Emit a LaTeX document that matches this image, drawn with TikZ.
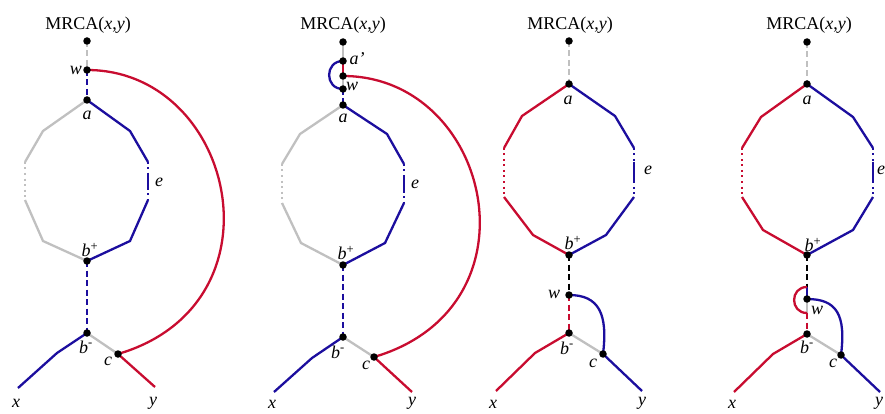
\documentclass[tikz,border=0pt]{standalone}
\usepackage{fontspec}
\setmainfont{Liberation Serif}
\usetikzlibrary{calc}
\definecolor{cred}{RGB}{200,12,48}
\definecolor{cblue}{RGB}{28,14,158}
\definecolor{cgray}{RGB}{192,192,192}
\begin{document}
\begin{tikzpicture}[x=1pt,y=-1pt,
  ln/.style={line width=2.3pt,line join=round},
  dsh/.style={ln,dash pattern=on 6pt off 3.5pt},
  dts/.style={ln,dash pattern=on 2pt off 3.5pt},
  dot/.style={circle,fill=black,inner sep=0pt,minimum size=7.5pt},
  lbl/.style={inner sep=0pt,font=\fontsize{18}{21}\selectfont\itshape},
  ttl/.style={inner sep=0pt,font=\fontsize{18}{21}\selectfont}]
\useasboundingbox (0,0) rectangle (885,414);

% ---------------- Panel 1 ----------------
\coordinate (t1) at (87,41);
\coordinate (w1) at (87,70);
\coordinate (a1) at (87,100);
\coordinate (l1a) at (43,131);
\coordinate (l1b) at (25,162);
\coordinate (l1c) at (25,200);
\coordinate (l1d) at (43,241);
\coordinate (bp1) at (87,261);
\coordinate (r1a) at (130,131);
\coordinate (r1b) at (148,162);
\coordinate (r1c) at (148,200);
\coordinate (r1d) at (130,241);
\coordinate (e1a) at ($(r1b)!0.28!(r1c)$);
\coordinate (e1b) at ($(r1b)!0.68!(r1c)$);
\coordinate (bm1) at (87,333);
\coordinate (xl1) at (57,353);
\coordinate (xe1) at (18,388);
\coordinate (c1) at (118,354);
\coordinate (ye1) at (155,387);

\draw[dsh,cgray] (t1) -- (w1);
\draw[dsh,cblue] (w1) -- (a1);
\draw[ln,cgray] (a1) -- (l1a) -- (l1b);
\draw[dts,cgray] (l1b) -- (l1c);
\draw[ln,cgray] (l1c) -- (l1d) -- (bp1);
\draw[ln,cblue] (a1) -- (r1a) -- (r1b);
\draw[dts,cblue] (r1b) -- (e1a);
\draw[ln,cblue] (e1a) -- (e1b);
\draw[dts,cblue] (e1b) -- (r1c);
\draw[ln,cblue] (r1c) -- (r1d) -- (bp1);
\draw[dsh,cblue] (bp1) -- (bm1);
\draw[ln,cblue] (bm1) -- (xl1) -- (xe1);
\draw[ln,cgray] (bm1) -- (c1);
\draw[ln,cred] (c1) -- (ye1);
\draw[ln,cred] (w1) .. controls +(148,0) and +(170,-50) .. (c1);

\foreach \p in {t1,w1,a1,bp1,bm1,c1} \node[dot] at (\p) {};

\node[ttl] (m1) at (88,25) {MRCA(\textit{x},\textit{y})};
\node[lbl] (lw1) at (76,70) {w};
\node[lbl] (la1) at (87,115) {a};
\node[lbl] (le1) at (159,182) {e};
\node[lbl] (lbp1) at (90,250) {b\textsuperscript{\upshape +}};
\node[lbl] (lbm1) at (86,347) {b\textsuperscript{\upshape -}};
\node[lbl] (lc1) at (108,361) {c};
\node[lbl] (lx1) at (16,403) {x};
\node[lbl] (ly1) at (153,403) {y};

% ---------------- Panel 2 ----------------
\coordinate (t2) at (343,42);
\coordinate (ap2) at (343,61);
\coordinate (w2) at (343,76);
\coordinate (wb2) at (343,89);
\coordinate (a2) at (343,105);
\coordinate (l2a) at (300,134);
\coordinate (l2b) at (282,164);
\coordinate (l2c) at (282,203);
\coordinate (l2d) at (301,243);
\coordinate (bp2) at (343,265);
\coordinate (r2a) at (387,134);
\coordinate (r2b) at (404,164);
\coordinate (r2c) at (404,203);
\coordinate (r2d) at (385,243);
\coordinate (e2a) at ($(r2b)!0.28!(r2c)$);
\coordinate (e2b) at ($(r2b)!0.68!(r2c)$);
\coordinate (bm2) at (343,337);
\coordinate (xl2) at (312,358);
\coordinate (xe2) at (274,392);
\coordinate (c2) at (374,357);
\coordinate (ye2) at (412,392);

\draw[ln,cgray] (t2) -- (ap2);
\draw[ln,cred] (ap2) -- (w2);
\draw[ln,cgray] (w2) -- (wb2);
\draw[dsh,cblue] (wb2) -- (a2);
\draw[ln,cblue] (ap2) to[out=180,in=180,looseness=1.7] (wb2);
\draw[ln,cgray] (a2) -- (l2a) -- (l2b);
\draw[dts,cgray] (l2b) -- (l2c);
\draw[ln,cgray] (l2c) -- (l2d) -- (bp2);
\draw[ln,cblue] (a2) -- (r2a) -- (r2b);
\draw[dts,cblue] (r2b) -- (e2a);
\draw[ln,cblue] (e2a) -- (e2b);
\draw[dts,cblue] (e2b) -- (r2c);
\draw[ln,cblue] (r2c) -- (r2d) -- (bp2);
\draw[dsh,cblue] (bp2) -- (bm2);
\draw[ln,cblue] (bm2) -- (xl2) -- (xe2);
\draw[ln,cgray] (bm2) -- (c2);
\draw[ln,cred] (c2) -- (ye2);
\draw[ln,cred] (w2) .. controls +(148,0) and +(170,-50) .. (c2);

\foreach \p in {t2,ap2,w2,wb2,a2,bp2,bm2,c2} \node[dot] at (\p) {};

\node[ttl] (m2) at (343,25) {MRCA(\textit{x},\textit{y})};
\node[lbl] (lap2) at (357,59) {a'};
\node[lbl] (lw2) at (352,86) {w};
\node[lbl] (la2) at (343,118) {a};
\node[lbl] (le2) at (415,184) {e};
\node[lbl] (lbp2) at (346,253) {b\textsuperscript{\upshape +}};
\node[lbl] (lbm2) at (338,352) {b\textsuperscript{\upshape -}};
\node[lbl] (lc2) at (366,365) {c};
\node[lbl] (lx2) at (272,404) {x};
\node[lbl] (ly2) at (412,403) {y};

% ---------------- Panel 3 ----------------
\coordinate (t3) at (569,41);
\coordinate (a3) at (569,84);
\coordinate (l3a) at (522,116);
\coordinate (l3b) at (504,148);
\coordinate (l3c) at (504,197);
\coordinate (l3d) at (533,235);
\coordinate (bp3) at (569,255);
\coordinate (r3a) at (615,116);
\coordinate (r3b) at (634,148);
\coordinate (r3c) at (634,197);
\coordinate (r3d) at (606,235);
\coordinate (e3a) at ($(r3b)!0.28!(r3c)$);
\coordinate (e3b) at ($(r3b)!0.68!(r3c)$);
\coordinate (w3) at (569,295);
\coordinate (bm3) at (569,333);
\coordinate (xl3) at (535,353);
\coordinate (xe3) at (496,391);
\coordinate (c3) at (603,354);
\coordinate (ye3) at (642,391);

\draw[dsh,cgray] (t3) -- (a3);
\draw[ln,cred] (a3) -- (l3a) -- (l3b);
\draw[dts,cred] (l3b) -- (l3c);
\draw[ln,cred] (l3c) -- (l3d) -- (bp3);
\draw[ln,cblue] (a3) -- (r3a) -- (r3b);
\draw[dts,cblue] (r3b) -- (e3a);
\draw[ln,cblue] (e3a) -- (e3b);
\draw[dts,cblue] (e3b) -- (r3c);
\draw[ln,cblue] (r3c) -- (r3d) -- (bp3);
\draw[dsh,black] (bp3) -- (w3);
\draw[dsh,cred] (w3) -- (bm3);
\draw[ln,cred] (bm3) -- (xl3) -- (xe3);
\draw[ln,cgray] (bm3) -- (c3);
\draw[ln,cblue] (c3) -- (ye3);
\draw[ln,cblue] (w3) .. controls +(30,0) and +(5,-40) .. (c3);

\foreach \p in {t3,a3,bp3,w3,bm3,c3} \node[dot] at (\p) {};

\node[ttl] (m3) at (570,25) {MRCA(\textit{x},\textit{y})};
\node[lbl] (la3) at (568,100) {a};
\node[lbl] (le3) at (648,170) {e};
\node[lbl] (lbp3) at (573,243) {b\textsuperscript{\upshape +}};
\node[lbl] (lw3) at (554,294) {w};
\node[lbl] (lbm3) at (567,348) {b\textsuperscript{\upshape -}};
\node[lbl] (lc3) at (593,363) {c};
\node[lbl] (lx3) at (493,404) {x};
\node[lbl] (ly3) at (642,403) {y};

% ---------------- Panel 4 ----------------
\coordinate (t4) at (807,42);
\coordinate (a4) at (807,84);
\coordinate (l4a) at (761,117);
\coordinate (l4b) at (742,148);
\coordinate (l4c) at (742,197);
\coordinate (l4d) at (763,230);
\coordinate (bp4) at (807,255);
\coordinate (r4a) at (853,117);
\coordinate (r4b) at (873,148);
\coordinate (r4c) at (873,197);
\coordinate (r4d) at (853,230);
\coordinate (e4a) at ($(r4b)!0.28!(r4c)$);
\coordinate (e4b) at ($(r4b)!0.68!(r4c)$);
\coordinate (p4a) at (807,287);
\coordinate (w4) at (807,299);
\coordinate (p4b) at (807,313);
\coordinate (bm4) at (807,334);
\coordinate (xl4) at (773,354);
\coordinate (xe4) at (734,392);
\coordinate (c4) at (841,355);
\coordinate (ye4) at (880,392);

\draw[dsh,cgray] (t4) -- (a4);
\draw[ln,cred] (a4) -- (l4a) -- (l4b);
\draw[dts,cred] (l4b) -- (l4c);
\draw[ln,cred] (l4c) -- (l4d) -- (bp4);
\draw[ln,cblue] (a4) -- (r4a) -- (r4b);
\draw[dts,cblue] (r4b) -- (e4a);
\draw[ln,cblue] (e4a) -- (e4b);
\draw[dts,cblue] (e4b) -- (r4c);
\draw[ln,cblue] (r4c) -- (r4d) -- (bp4);
\draw[dsh,black] (bp4) -- (p4a);
\draw[ln,cblue] (p4a) -- (w4);
\draw[ln,cgray] (w4) -- (p4b);
\draw[dsh,cred] (p4b) -- (bm4);
\draw[ln,cred] (p4a) to[out=180,in=180,looseness=1.7] (p4b);
\draw[ln,cred] (bm4) -- (xl4) -- (xe4);
\draw[ln,cgray] (bm4) -- (c4);
\draw[ln,cblue] (c4) -- (ye4);
\draw[ln,cblue] (w4) .. controls +(30,0) and +(5,-40) .. (c4);

\foreach \p in {t4,a4,bp4,w4,bm4,c4} \node[dot] at (\p) {};

\node[ttl] (m4) at (809,25) {MRCA(\textit{x},\textit{y})};
\node[lbl] (la4) at (807,100) {a};
\node[lbl] (le4) at (881,170) {e};
\node[lbl] (lbp4) at (813,245) {b\textsuperscript{\upshape +}};
\node[lbl] (lw4) at (817,310) {w};
\node[lbl] (lbm4) at (807,347) {b\textsuperscript{\upshape -}};
\node[lbl] (lc4) at (833,363) {c};
\node[lbl] (lx4) at (732,404) {x};
\node[lbl] (ly4) at (879,403) {y};
\end{tikzpicture}
\end{document}
